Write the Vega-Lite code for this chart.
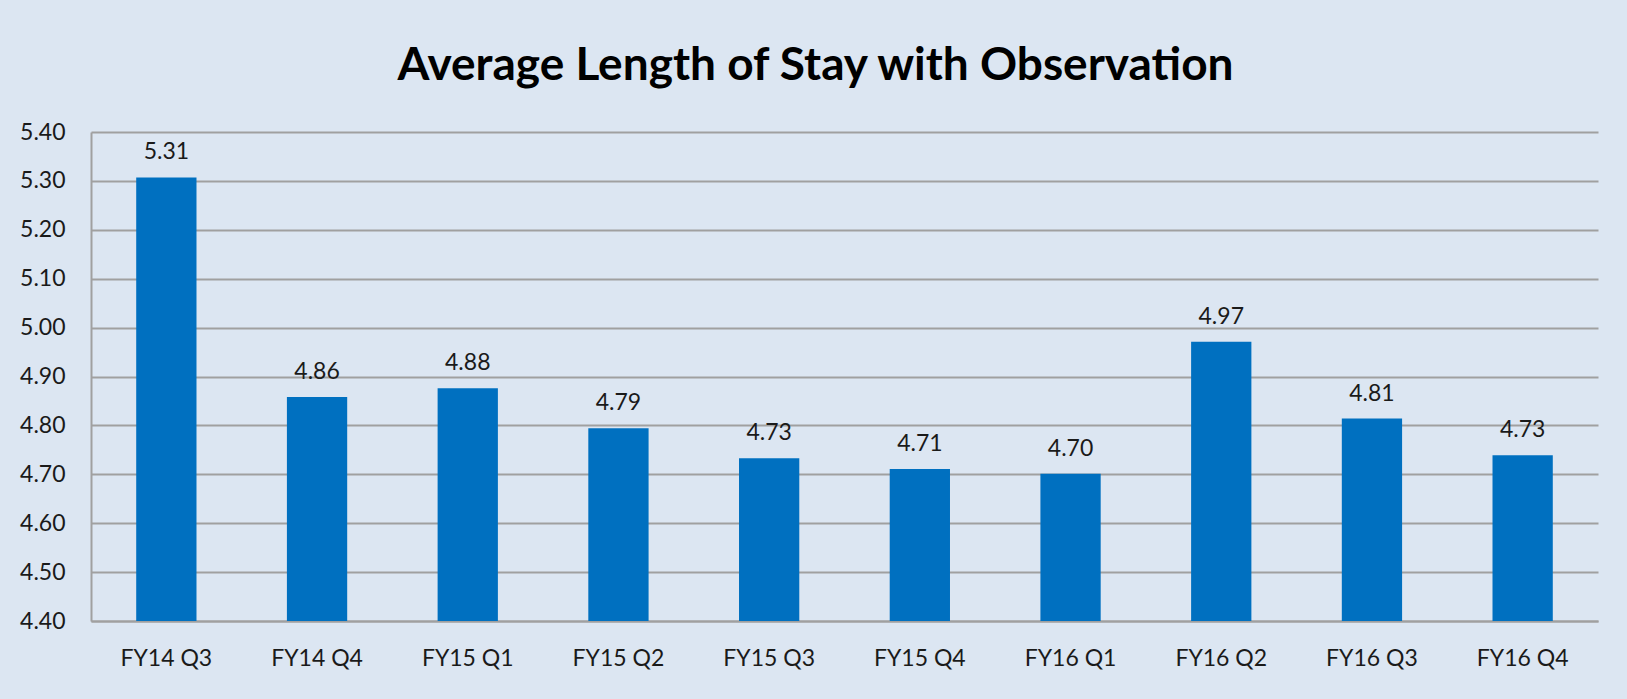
{
  "$schema": "https://vega.github.io/schema/vega-lite/v6.json",
  "autosize": {"type": "none"},
  "width": 1507,
  "height": 489,
  "padding": {"left": 91, "top": 132, "right": 29, "bottom": 78},
  "background": "#dce6f2",
  "title": {
    "text": "Average Length of Stay with Observation",
    "font": "Lato",
    "fontSize": 46,
    "fontWeight": "bold",
    "color": "#000000",
    "anchor": "middle",
    "frame": "group",
    "baseline": "alphabetic",
    "offset": -5,
    "dx": -29
  },
  "data": {
    "values": [
      {"quarter": "FY14 Q3", "value": 5.307, "label": "5.31"},
      {"quarter": "FY14 Q4", "value": 4.858, "label": "4.86"},
      {"quarter": "FY15 Q1", "value": 4.876, "label": "4.88"},
      {"quarter": "FY15 Q2", "value": 4.794, "label": "4.79"},
      {"quarter": "FY15 Q3", "value": 4.733, "label": "4.73"},
      {"quarter": "FY15 Q4", "value": 4.711, "label": "4.71"},
      {"quarter": "FY16 Q1", "value": 4.701, "label": "4.70"},
      {"quarter": "FY16 Q2", "value": 4.971, "label": "4.97"},
      {"quarter": "FY16 Q3", "value": 4.814, "label": "4.81"},
      {"quarter": "FY16 Q4", "value": 4.739, "label": "4.73"}
    ]
  },
  "encoding": {
    "x": {
      "field": "quarter",
      "type": "nominal",
      "sort": null,
      "scale": {"paddingInner": 0.6, "paddingOuter": 0.3},
      "axis": {
        "title": null,
        "labelAngle": 0,
        "labelFont": "Lato",
        "labelFontSize": 23,
        "labelColor": "#1a1a1a",
        "labelPadding": 26,
        "ticks": false,
        "domainColor": "#a0a0a0",
        "domainWidth": 2,
        "grid": false
      }
    },
    "y": {
      "field": "value",
      "type": "quantitative",
      "scale": {"domain": [4.4, 5.4], "zero": false, "nice": false},
      "axis": {
        "title": null,
        "values": [4.4, 4.5, 4.6, 4.7, 4.8, 4.9, 5.0, 5.1, 5.2, 5.3, 5.4],
        "format": ".2f",
        "labelFont": "Lato",
        "labelFontSize": 23,
        "labelColor": "#1a1a1a",
        "labelPadding": 26,
        "ticks": false,
        "domainColor": "#a0a0a0",
        "domainWidth": 2,
        "grid": true,
        "gridColor": "#a0a0a0",
        "gridWidth": 2
      }
    }
  },
  "layer": [
    {"mark": {"type": "bar", "color": "#0070c0", "clip": true}},
    {
      "mark": {"type": "text", "font": "Lato", "fontSize": 23, "color": "#1a1a1a", "baseline": "alphabetic", "dy": -18},
      "encoding": {"text": {"field": "label"}}
    }
  ],
  "config": {"view": {"stroke": null}}
}
